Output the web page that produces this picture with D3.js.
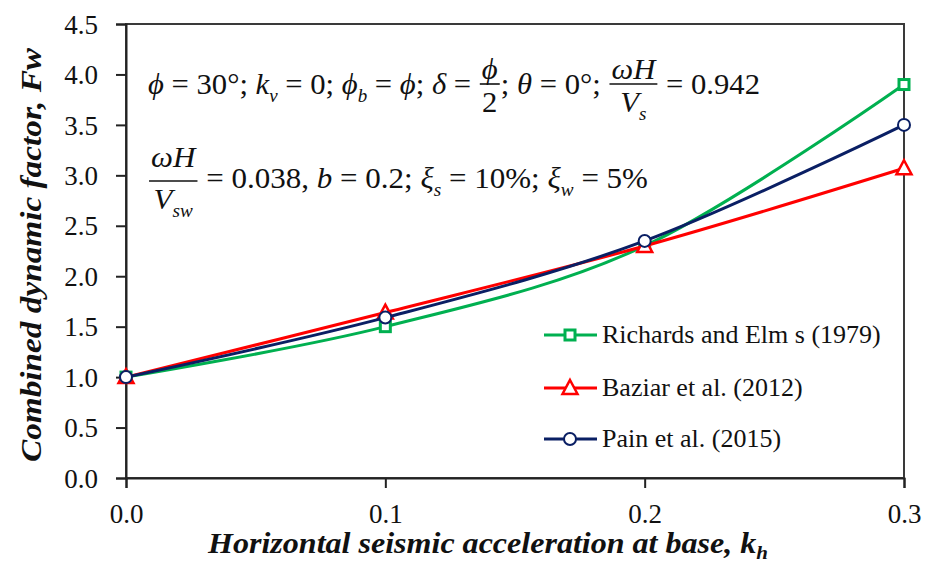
<!DOCTYPE html>
<html><head><meta charset="utf-8">
<script src="https://cdn.jsdelivr.net/npm/d3@7"></script>
</head><body style="margin:0">
<svg id="c" width="925" height="567" style="font-family:'Liberation Serif'"></svg>
<script>
const kh = [0.0, 0.1, 0.2, 0.3];
const richards = [1.0, 1.5, 2.3, 3.9];
const baziar = [1.0, 1.64, 2.3, 3.07];
const pain = [1.0, 1.59, 2.35, 3.5];
const seriesNames = ["Richards and Elm s (1979)", "Baziar et al. (2012)", "Pain et al. (2015)"];
const xTickVals = [0.0, 0.1, 0.2, 0.3];
const yTickVals = [0, 0.5, 1.0, 1.5, 2.0, 2.5, 3.0, 3.5, 4.0, 4.5];

const svg = d3.select("#c");
const L = 126, R = 904, T = 24, B = 478;
const x = d3.scaleLinear().domain([0, 0.3]).range([L, R]);
const y = d3.scaleLinear().domain([0, 4.5]).range([B, T]);
const FONT = "Liberation Serif";
const font = sel => sel.attr("font-family", FONT).style("font-family", "'Liberation Serif'");

// frame
svg.append("rect").attr("x", L).attr("y", T).attr("width", R - L).attr("height", B - T)
  .attr("fill", "none").attr("stroke", "#3a3a3a").attr("stroke-width", 2);

// axes
const ya = svg.append("g").attr("transform", `translate(${L},0)`)
  .call(d3.axisLeft(y).tickValues(yTickVals).tickFormat(d3.format(".1f")).tickSize(10).tickPadding(18));
const xa = svg.append("g").attr("transform", `translate(0,${B})`)
  .call(d3.axisBottom(x).tickValues(xTickVals).tickFormat(d3.format(".1f")).tickSize(10).tickPadding(16));
[ya, xa].forEach(a => {
  a.call(font).attr("font-size", 27);
  a.select(".domain").attr("stroke", "#222").attr("stroke-width", 2);
  a.selectAll(".tick line").attr("stroke", "#222").attr("stroke-width", 2);
  a.selectAll(".tick text").call(font).attr("font-size", 27).attr("fill", "#111");
});
ya.selectAll(".tick text").attr("dy", "0.34em");
xa.selectAll(".tick text").attr("dy", "0.72em");

// axis titles
svg.append("text").attr("x", 208).attr("y", 553)
  .call(font).attr("font-size", 29).attr("font-weight", "bold").attr("font-style", "italic")
  .attr("fill", "#111").attr("textLength", 560).attr("lengthAdjust", "spacingAndGlyphs")
  .call(t => {
    t.append("tspan").text("Horizontal seismic acceleration at base, k");
    t.append("tspan").attr("font-size", 19).attr("dy", 6).text("h");
  });
svg.append("text").attr("transform", "translate(41,255) rotate(-90)").attr("text-anchor", "middle")
  .call(font).attr("font-size", 29).attr("font-weight", "bold").attr("font-style", "italic")
  .attr("fill", "#111").attr("textLength", 414).attr("lengthAdjust", "spacingAndGlyphs")
  .text("Combined dynamic factor, Fw");

// series
const series = [
  { name: seriesNames[0], vals: richards, color: "#00b050", marker: "square" },
  { name: seriesNames[1], vals: baziar, color: "#ff0000", marker: "triangle" },
  { name: seriesNames[2], vals: pain, color: "#0a1f64", marker: "circle" }
];
const line = d3.line().x(d => x(d[0])).y(d => y(d[1])).curve(d3.curveCatmullRom.alpha(0));

function drawMarker(g, type, cx, cy, color) {
  if (type === "square") {
    g.append("rect").attr("x", cx - 5).attr("y", cy - 5).attr("width", 10).attr("height", 10)
      .attr("fill", "#fff").attr("stroke", color).attr("stroke-width", 3);
  } else if (type === "triangle") {
    g.append("path").attr("d", `M${cx},${cy - 8}L${cx + 7.5},${cy + 6}L${cx - 7.5},${cy + 6}Z`)
      .attr("fill", "#fff").attr("stroke", color).attr("stroke-width", 2.5);
  } else {
    g.append("circle").attr("cx", cx).attr("cy", cy).attr("r", 6)
      .attr("fill", "#fff").attr("stroke", color).attr("stroke-width", 2);
  }
}

series.forEach(s => {
  const pts = kh.map((k, i) => [k, s.vals[i]]);
  const g = svg.append("g");
  g.append("path").attr("d", line(pts)).attr("fill", "none").attr("stroke", s.color).attr("stroke-width", 3);
  pts.forEach(p => drawMarker(g, s.marker, x(p[0]), y(p[1]), s.color));
});

// legend
const legY = [335, 388, 439];
series.forEach((s, i) => {
  const g = svg.append("g");
  g.append("line").attr("x1", 544).attr("x2", 597).attr("y1", legY[i]).attr("y2", legY[i])
    .attr("stroke", s.color).attr("stroke-width", 3);
  drawMarker(g, s.marker, 570, legY[i], s.color);
  g.append("text").attr("x", 602).attr("y", legY[i] + 8).call(font).attr("font-size", 26)
    .attr("fill", "#111").text(s.name);
});

// annotation (math)
function piece(parent, xx, yy, p, fs) {
  const t = parent.append("text").attr("x", xx).attr("y", yy + (p.s ? fs * 0.28 : 0))
    .call(font).attr("font-size", p.s ? fs * 0.62 : fs)
    .attr("font-style", p.i ? "italic" : "normal").attr("fill", "#111")
    .style("white-space", "pre").text(p.t);
  return t.node().getComputedTextLength();
}
function runs(parent, xx, yy, list, fs) {
  let cx = xx;
  list.forEach(p => { cx += piece(parent, cx, yy, p, fs); });
  return cx - xx;
}
function measure(list, fs) {
  const g = svg.append("g").attr("opacity", 0);
  const w = runs(g, 0, 0, list, fs);
  g.remove();
  return w;
}
function mathLine(x0, xEnd, base, bar, numBase, denBase, items, fs) {
  const g = svg.append("g");
  let cx = x0;
  items.forEach(it => {
    if (it.frac) {
      const wn = measure(it.frac[0], fs), wd = measure(it.frac[1], fs);
      const w = Math.max(wn, wd) + 6;
      g.append("line").attr("x1", cx + 1).attr("x2", cx + w - 1).attr("y1", bar).attr("y2", bar)
        .attr("stroke", "#111").attr("stroke-width", 1.6);
      runs(g, cx + (w - wn) / 2, numBase, it.frac[0], fs);
      runs(g, cx + (w - wd) / 2, denBase, it.frac[1], fs);
      cx += w;
    } else {
      cx += runs(g, cx, base, it, fs);
    }
  });
  const sx = (xEnd - x0) / (cx - x0);
  g.attr("transform", `translate(${x0},0) scale(${sx},1) translate(${-x0},0)`);
}
const I = t => ({ t, i: true }), N = t => ({ t }), S = t => ({ t, i: true, s: true });
mathLine(148, 760, 94, 84, 79, 112, [
  [I("ϕ"), N(" = 30°; "), I("k"), S("v"), N(" = 0; "), I("ϕ"), S("b"), N(" = "), I("ϕ"), N("; "), I("δ"), N(" = ")],
  { frac: [[I("ϕ")], [N("2")]] },
  [N("; "), I("θ"), N(" = 0°; ")],
  { frac: [[I("ωH")], [I("V"), S("s")]] },
  [N(" = 0.942")]
], 30);
mathLine(148, 648, 188, 181, 167, 209, [
  { frac: [[I("ωH")], [I("V"), S("sw")]] },
  [N(" = 0.038, "), I("b"), N(" = 0.2; "), I("ξ"), S("s"), N(" = 10%; "), I("ξ"), S("w"), N(" = 5%")]
], 30);
</script>
</body></html>
